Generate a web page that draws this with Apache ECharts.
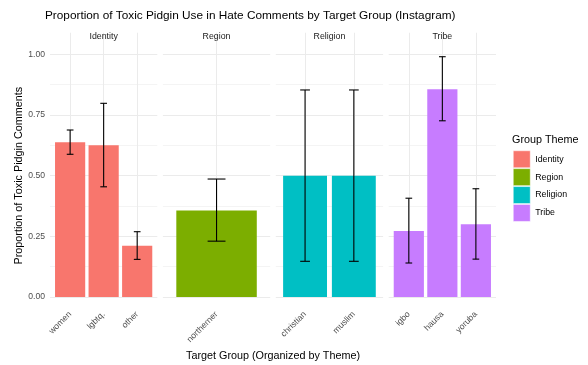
<!DOCTYPE html>
<html>
<head>
<meta charset="utf-8">
<script src="https://cdn.jsdelivr.net/npm/echarts@6/dist/echarts.min.js"></script>
<style>
  html, body { margin: 0; padding: 0; background: #fff; }
  #chart { width: 588px; height: 365px; }
</style>
</head>
<body>
<div id="chart"></div>
<script>
// Proportion of toxic pidgin use by target group, one facet per theme
const themes = ['Identity', 'Region', 'Religion', 'Tribe'];
const themeColors = ['#F8766D', '#7CAE00', '#00BFC4', '#C77CFF'];

const identityGroups = ['women', 'lgbtq.', 'other'];
const identityProp   = [0.638, 0.625, 0.211];
const identityLow    = [0.588, 0.454, 0.155];
const identityHigh   = [0.688, 0.798, 0.269];

const regionGroups = ['northerner'];
const regionProp   = [0.356];
const regionLow    = [0.230];
const regionHigh   = [0.486];

const religionGroups = ['christian', 'muslim'];
const religionProp   = [0.500, 0.500];
const religionLow    = [0.147, 0.147];
const religionHigh   = [0.853, 0.853];

const tribeGroups = ['igbo', 'hausa', 'yoruba'];
const tribeProp   = [0.272, 0.856, 0.300];
const tribeLow    = [0.140, 0.726, 0.156];
const tribeHigh   = [0.407, 0.990, 0.446];

const yTicks = [0, 0.25, 0.5, 0.75, 1];

const facets = [
  { groups: identityGroups, prop: identityProp, low: identityLow, high: identityHigh },
  { groups: regionGroups,   prop: regionProp,   low: regionLow,   high: regionHigh },
  { groups: religionGroups, prop: religionProp, low: religionLow, high: religionHigh },
  { groups: tribeGroups,    prop: tribeProp,    low: tribeLow,    high: tribeHigh }
];

// panel geometry (pixels)
const FONT = '"Liberation Sans", Arial, sans-serif';
const panelLeft0 = 50, panelW = 107.3, panelGap = 5.6;
const panelTop = 44.7, panelBottom = 309;       // full panel incl. expansion
const dataTop = 54.3, dataBottom = 297;          // y = 1 and y = 0
const yMinExp = -0.0495, yMaxExp = 1.0395;
const gridColor = '#EBEBEB';

const grid = [], xAxis = [], yAxis = [], series = [], titles = [];

titles.push({
  text: 'Proportion of Toxic Pidgin Use in Hate Comments by Target Group (Instagram)',
  left: 45, top: 10, padding: 0,
  textStyle: { fontFamily: FONT, fontSize: 11.8, fontWeight: 'normal', color: '#000' }
});

facets.forEach((f, i) => {
  const n = f.groups.length;
  const L = panelLeft0 + i * (panelW + panelGap);
  const unit = panelW / (n + 0.2);

  // background grid: horizontal major/minor lines between 0 and 1
  grid.push({ left: L, top: dataTop, width: panelW, height: dataBottom - dataTop, containLabel: false });
  xAxis.push({ gridIndex: 2 * i, type: 'category', data: [''], show: false });
  yAxis.push({
    gridIndex: 2 * i, type: 'value', min: 0, max: 1, interval: 0.25,
    axisLine: { show: false }, axisTick: { show: false },
    axisLabel: {
      show: i === 0, color: '#4D4D4D', fontSize: 8.6, fontFamily: FONT, margin: 5,
      formatter: v => yTicks.includes(v) ? v.toFixed(2) : ''
    },
    splitLine: { show: true, lineStyle: { color: gridColor, width: 1.07 } },
    minorTick: { show: false, splitNumber: 2 },
    minorSplitLine: { show: true, lineStyle: { color: gridColor, width: 0.55 } },
    name: i === 0 ? 'Proportion of Toxic Pidgin Comments' : '',
    nameLocation: 'middle', nameRotate: 90, nameGap: 25.5,
    nameTextStyle: { fontFamily: FONT, fontSize: 10.8, color: '#000' }
  });

  // data grid: category bands of one unit, inset by the discrete expansion
  grid.push({ left: L + 0.1 * unit, top: panelTop, width: n * unit, height: panelBottom - panelTop, containLabel: false });
  xAxis.push({
    gridIndex: 2 * i + 1, type: 'category', data: f.groups,
    axisLine: { show: false },
    axisTick: {
      show: true, alignWithLabel: true, inside: true, interval: 0,
      length: panelBottom - panelTop, lineStyle: { color: gridColor, width: 1.07 }
    },
    axisLabel: {
      interval: 0, rotate: 45, color: '#4D4D4D', fontSize: 8.6, fontFamily: FONT, margin: 4
    },
    splitLine: { show: false }
  });
  yAxis.push({ gridIndex: 2 * i + 1, type: 'value', min: yMinExp, max: yMaxExp, show: false, splitLine: { show: false } });

  series.push({
    name: themes[i], type: 'bar', xAxisIndex: 2 * i + 1, yAxisIndex: 2 * i + 1,
    data: f.prop, barWidth: '90%', itemStyle: { color: themeColors[i] }, z: 3
  });

  series.push({
    type: 'custom', xAxisIndex: 2 * i + 1, yAxisIndex: 2 * i + 1, z: 5,
    data: f.groups.map((g, k) => [k, f.low[k], f.high[k]]),
    renderItem: (params, api) => {
      const x = api.value(0);
      const lo = api.coord([x, api.value(1)]);
      const hi = api.coord([x, api.value(2)]);
      const half = api.size([1, 0])[0] * 0.1;
      const style = { stroke: '#000', lineWidth: 1.1, fill: null };
      return {
        type: 'group',
        children: [
          { type: 'line', shape: { x1: lo[0], y1: lo[1], x2: hi[0], y2: hi[1] }, style },
          { type: 'line', shape: { x1: hi[0] - half, y1: hi[1], x2: hi[0] + half, y2: hi[1] }, style },
          { type: 'line', shape: { x1: lo[0] - half, y1: lo[1], x2: lo[0] + half, y2: lo[1] }, style }
        ]
      };
    }
  });

  // facet strip label
  titles.push({
    text: themes[i], left: L + panelW / 2, top: 32.5, textAlign: 'center', padding: 0,
    textStyle: { fontFamily: FONT, fontSize: 8.8, fontWeight: 'normal', color: '#1A1A1A' }
  });
});

titles.push({
  text: 'Target Group (Organized by Theme)',
  left: (panelLeft0 + panelLeft0 + 4 * panelW + 3 * panelGap) / 2, top: 350.5, textAlign: 'center', padding: 0,
  textStyle: { fontFamily: FONT, fontSize: 10.8, fontWeight: 'normal', color: '#000' }
});
titles.push({
  text: 'Group Theme', left: 512, top: 135, padding: 0,
  textStyle: { fontFamily: FONT, fontSize: 10.8, fontWeight: 'normal', color: '#000' }
});

const chart = echarts.init(document.getElementById('chart'), null, { renderer: 'canvas' });
chart.setOption({
  backgroundColor: '#fff',
  animation: false,
  title: titles,
  grid, xAxis, yAxis, series,
  legend: {
    data: themes, orient: 'vertical', left: 513, top: 150.5, padding: 0,
    icon: 'rect', itemWidth: 17, itemHeight: 17, itemGap: 0.4,
    selectedMode: false,
    textStyle: { fontFamily: FONT, fontSize: 8.8, color: '#000' },
    itemStyle: { borderColor: '#fff', borderWidth: 0.5 }
  }
});
</script>
</body>
</html>
